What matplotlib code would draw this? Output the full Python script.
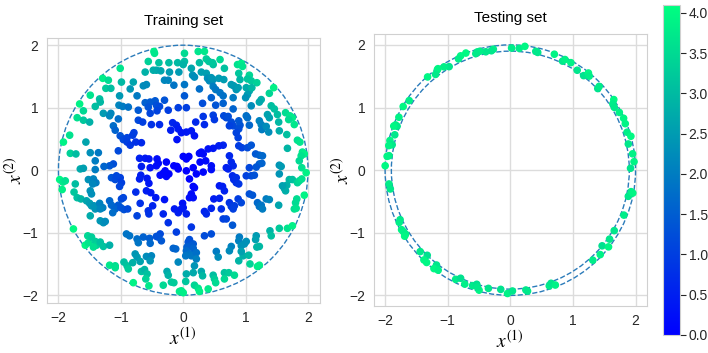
import matplotlib.pyplot as plt
import numpy as np
from matplotlib.patches import Circle

# training set, one quadrant at a time
train_x_q1 = [-0.47, -0.46, -0.56, -0.39, -0.23, -0.09, -1.01, -0.61, -0.48, -0.43,
              -0.36, -0.22, -0.07, -1.29, -1.20, -0.99, -0.80, -0.30, -0.24, -1.24,
              -1.16, -0.85, -0.64, -0.59, -0.15, -1.49, -1.34, -1.02, -0.74, -1.33,
              -1.66, -1.41, -1.03, -0.97, -0.88, -0.61, -0.53, -0.45, -0.43, -0.30,
              -0.56, -0.38, -0.24, -1.60, -1.28, -1.16, -1.18, -0.72, -0.53, -0.42,
              -0.08, -1.70, -1.60, -1.50, -1.04, -0.72, -0.65, -0.51, -0.38, -0.17,
              -0.11, -0.08, -1.12, -1.09, -1.01, -0.96, -0.90, -0.81, -0.79, -0.90,
              -0.85, -0.76, -0.67, -0.20, -0.10, -1.82, -1.92, -1.56, -1.49, -1.81,
              -1.72, -1.36, -1.04, -1.41, -1.12, -1.18, -1.27, -0.70, -0.61, -0.55,
              -0.42, -0.40, -0.27, -0.15, -0.10, -0.67, -0.53, -0.43]
train_y_q1 = [1.90, 1.87, 1.74, 1.72, 1.72, 1.72, 1.63, 1.57, 1.60, 1.60,
              1.59, 1.57, 1.57, 1.47, 1.44, 1.41, 1.41, 1.44, 1.44, 1.31,
              1.31, 1.30, 1.35, 1.37, 1.36, 1.20, 1.14, 1.19, 1.19, 1.09,
              1.06, 1.02, 1.04, 1.02, 1.01, 1.08, 1.09, 1.11, 1.04, 1.12,
              1.01, 1.02, 0.96, 0.95, 0.91, 0.91, 0.87, 0.96, 0.91, 0.95,
              1.00, 0.84, 0.80, 0.77, 0.82, 0.80, 0.77, 0.73, 0.73, 0.76,
              0.72, 0.66, 0.71, 0.64, 0.55, 0.49, 0.52, 0.56, 0.60, 0.45,
              0.40, 0.45, 0.44, 0.64, 0.49, 0.56, 0.45, 0.45, 0.28, 0.27,
              0.26, 0.28, 0.31, 0.15, 0.10, 0.07, 0.06, 0.19, 0.19, 0.18,
              0.18, 0.11, 0.13, 0.07, 0.06, 0.06, 0.04, 0.07]

train_x_q2 = [0.02, 0.24, 0.34, 0.02, 0.00, 0.26, 0.37, 0.41, 0.48, 0.47,
              0.59, 0.66, 0.87, 0.93, 0.95, 0.13, 0.15, 0.18, 0.29, 0.37,
              0.39, 0.42, 0.48, 0.45, 0.57, 0.65, 0.89, 0.91, 1.06, 1.03,
              1.09, 1.18, 0.02, 0.26, 0.48, 0.52, 0.77, 0.81, 0.85, 0.88,
              1.01, 1.06, 1.10, 0.59, 0.64, 1.03, 1.00, 0.02, 0.45, 0.80,
              1.25, 1.22, 1.38, 1.45, 0.31, 0.52, 0.64, 1.09, 0.80, 0.05,
              1.41, 1.46, 1.35, 1.38, 1.51, 1.53, 1.64, 1.71, 1.75, 1.69,
              1.78, 0.48, 0.50, 0.65, 0.69, 0.72, 0.32, 0.34, 0.20, 0.13,
              0.05, -0.03, 0.18, 0.77, 0.80, 0.74, 0.89, 0.91, 0.89, 1.01,
              1.03, 1.06, 1.22, 1.25, 1.26, 1.33, 1.37, 1.54, 1.66, 1.83,
              1.87, 1.91, 1.94, 1.89, 1.67, 0.85, 0.88, 0.64, 0.57, 0.48,
              0.40, 0.29, 0.26, 0.32, 0.09, 0.05, 0.00, 0.74, 0.77, 0.80,
              0.89, 0.94, 1.03, 1.09, 1.16, 1.22, 1.27, 1.22, 1.26, 1.54,
              1.57, 0.69, 0.72, 0.45, 0.27, 0.36, 0.16, 1.86, 1.90]
train_y_q2 = [1.87, 1.90, 1.90, 1.74, 1.69, 1.72, 1.78, 1.74, 1.69, 1.72,
              1.77, 1.63, 1.69, 1.71, 1.66, 1.63, 1.52, 1.49, 1.57, 1.55,
              1.47, 1.43, 1.45, 1.48, 1.47, 1.45, 1.55, 1.45, 1.52, 1.46,
              1.43, 1.40, 1.37, 1.30, 1.34, 1.29, 1.37, 1.35, 1.29, 1.32,
              1.32, 1.27, 1.32, 1.24, 1.19, 1.21, 1.16, 1.19, 1.16, 1.16,
              1.13, 1.09, 1.23, 1.32, 1.07, 1.04, 1.07, 1.03, 0.98, 1.00,
              1.03, 0.98, 0.89, 0.84, 0.89, 0.77, 0.92, 0.87, 0.84, 0.81,
              0.73, 0.88, 0.81, 0.87, 0.84, 0.86, 0.86, 0.73, 0.77, 0.63,
              0.61, 0.60, 0.55, 0.77, 0.71, 0.71, 0.79, 0.72, 0.66, 0.87,
              0.84, 0.72, 0.79, 0.73, 0.65, 0.70, 0.61, 0.63, 0.57, 0.48,
              0.45, 0.29, 0.26, 0.23, 0.35, 0.60, 0.52, 0.40, 0.39, 0.35,
              0.34, 0.29, 0.27, 0.26, 0.22, 0.18, 0.22, 0.23, 0.13, 0.07,
              0.39, 0.36, 0.36, 0.40, 0.26, 0.24, 0.23, 0.10, 0.11, 0.08,
              0.06, 0.04, 0.02, 0.07, 0.13, 0.15, 0.04, 0.15, 0.04]

train_x_q3 = [-1.65, -1.60, -1.41, -1.98, -1.93, -1.89, -1.94, -1.73, -1.75, -1.70,
              -1.64, -1.52, -1.49, -1.47, -1.44, -1.40, -1.45, -1.55, -1.50, -1.47,
              -1.41, -1.43, -1.34, -1.29, -1.33, -1.49, -1.33, -1.28, -1.25, -1.18,
              -1.15, -1.15, -1.09, -1.01, -0.99, -1.02, -1.07, -0.99, -0.96, -1.04,
              -1.09, -1.00, -0.95, -0.89, -1.13, -0.76, -0.68, -0.70, -0.58, -0.55,
              -0.59, -0.52, -0.44, -0.69, -0.56, -0.55, -0.49, -0.74, -0.37, -0.32,
              -0.27, -0.23, -0.29, -0.08, -0.30, -0.14, -0.08, -0.01, -0.24, -0.32,
              -1.76, -1.57, -1.52, -1.53, -1.47, -1.41, -1.39, -1.44, -1.33, -1.28,
              -1.18, -1.18, -1.09, -1.09, -0.95, -0.90, -0.81, -0.88, -0.91, -0.86,
              -0.74, -0.72, -0.64, -0.54, -0.53, -0.43, -0.77, -0.74, -0.69, -0.59,
              -0.51, -0.53, -0.67, -0.62, -0.58, -0.60, -0.55, -0.80, -0.37, -0.40,
              -0.35, -0.16, -0.12, -0.26, -0.24, -0.19, -0.15, -0.32, -0.08, -0.03,
              -0.11]
train_y_q3 = [0.02, 0.03, 0.01, -0.15, -0.19, -0.17, -0.31, -0.22, -0.35, -0.44,
              -0.46, -0.15, -0.33, -0.38, -0.14, -0.20, -0.22, -0.49, -0.53, -0.57,
              -0.62, -0.57, -0.53, -0.60, -0.62, -0.73, -0.81, -0.84, -0.82, -0.49,
              -0.56, -0.12, -0.15, -0.12, -0.20, -0.26, -0.09, -0.46, -0.44, -0.56,
              -0.62, -0.60, -0.63, -0.62, -0.68, -0.35, -0.08, -0.14, -0.13, -0.21,
              -0.33, -0.36, -0.44, -0.53, -0.65, -0.70, -0.57, -0.73, -0.08, -0.05,
              -0.10, -0.06, -0.01, 0.02, -0.47, -0.62, -0.68, -0.53, -0.84, -0.70,
              -0.94, -1.20, -1.16, -1.05, -1.07, -1.14, -1.20, -1.23, -1.15, -1.22,
              -1.20, -1.52, -1.53, -1.56, -1.47, -1.53, -1.48, -1.58, -1.02, -1.05,
              -1.10, -1.16, -1.07, -1.09, -1.17, -1.06, -1.34, -1.39, -1.46, -1.38,
              -1.37, -1.45, -1.62, -1.59, -1.66, -1.74, -1.85, -1.80, -1.02, -1.07,
              -1.13, -1.25, -1.26, -1.62, -1.68, -1.79, -1.80, -1.84, -1.47, -1.93,
              -0.99]

train_x_q4 = [0.05, 0.10, 0.21, 0.32, 0.45, 0.16, 0.18, 0.13, 0.10, 0.16,
              0.00, -0.03, 0.05, 0.13, 0.34, 0.37, 0.45, 0.49, 0.58, 0.61,
              0.58, 0.63, 0.66, 0.79, 0.81, 0.85, 0.85, 0.89, 0.74, 0.77,
              0.82, 0.80, 0.88, 0.93, 0.64, 0.69, 0.79, 1.01, 1.09, 1.14,
              1.06, 1.11, 1.19, 1.22, 1.25, 1.27, 1.33, 1.38, 1.17, 1.54,
              1.62, 1.64, 1.66, 1.70, 1.75, 1.83, 1.86, 1.90, 1.97, 1.82,
              1.80, 1.94, 1.53, 1.78, 1.81, 1.39, 1.41, 1.54, 1.67, 1.75,
              1.17, 1.16, 1.22, 1.18, 0.90, 0.89, 0.93, 0.98, 1.01, 0.77,
              0.74, 0.96, 0.93, 0.89, 1.05, 1.07, 1.19, 1.22, 0.10, 0.08,
              0.16, 0.13, 0.06, 0.16, 0.05, 0.10, 0.13, 0.04, 0.21, 0.21,
              0.34, 0.45, 0.53, 0.56, 0.18, 0.29, 0.31, 0.16, 0.05, 0.48,
              0.50, 0.52, 0.66, 0.73, 0.82, 0.66, 0.04, 0.18, 0.24, 0.26,
              0.40, -0.06, 0.00, 1.59, 1.06]
train_y_q4 = [-0.01, -0.14, -0.06, -0.03, 0.01, -0.26, -0.28, -0.38, -0.44, -0.44,
              -0.60, -0.62, -0.70, -0.91, -0.66, -0.70, -0.61, -0.46, -0.45, -0.62,
              -0.25, -0.26, -0.33, -0.09, -0.15, -0.12, -0.20, -0.22, -0.52, -0.58,
              -0.57, -0.62, -0.46, -0.52, -0.78, -0.78, -0.88, -0.09, -0.09, -0.08,
              -0.38, -0.40, -0.52, -0.58, -0.56, -0.62, -0.46, -0.47, 0.05, -0.06,
              -0.29, -0.33, -0.24, -0.15, -0.15, -0.20, -0.17, -0.14, -0.04, -0.46,
              -0.52, -0.40, -0.56, -0.62, -0.61, -0.97, -1.05, -0.93, -0.93, -0.89,
              -1.05, -1.11, -1.22, -1.23, -1.07, -1.13, -1.21, -1.18, -1.14, -1.22,
              -1.29, -1.37, -1.30, -1.45, -1.36, -1.50, -1.54, -1.52, -1.11, -1.15,
              -1.18, -1.21, -1.23, -1.25, -1.29, -1.34, -1.37, -1.37, -1.32, -1.42,
              -1.05, -1.02, -1.30, -1.39, -1.53, -1.62, -1.69, -1.64, -1.66, -1.68,
              -1.74, -1.80, -1.64, -1.64, -1.68, -1.74, -1.78, -1.84, -1.89, -1.94,
              -1.90, -1.94, -1.96, -0.25, 0.04]

# testing set: points in the thin ring, angle in degrees and radius
theta_test = [98.0, 99.0, 101.7, 104.4, 105.6, 106.5, 110.8, 113.5, 115.0, 120.6,
              122.7, 125.5, 126.1, 128.0, 131.6, 145.5, 149.3, 154.6, 158.5, 158.8,
              159.3, 163.0, 166.2, 167.6, 167.9, 168.6, 173.2, 173.6, 178.0,
              186.5, 188.9, 204.2, 205.2, 208.7, 209.9, 211.4, 212.0, 222.1, 225.7,
              226.1, 227.8, 232.1, 232.2, 234.2, 243.4, 245.3, 248.2, 251.9, 253.6,
              255.4, 254.2, 259.5, 265.4, 268.7,
              271.0, 278.1, 277.4, 288.6, 289.8, 291.4, 312.5, 316.8, 320.5, 322.0,
              325.2, 329.8, 338.4, 347.5, 349.9, 349.4, 0.9,
              89.4, 85.8, 83.3, 77.9, 76.9, 69.2, 64.4, 63.7, 60.6, 56.2,
              52.2, 51.2, 50.0, 43.0, 43.3, 34.3, 32.9, 31.1, 27.9, 24.6,
              22.0, 18.0, 15.7, 12.5, 7.6, 3.9]
r_test = [1.95, 1.93, 1.93, 1.96, 1.96, 1.94, 2.00, 1.99, 1.96, 1.92,
          1.96, 1.99, 1.98, 1.94, 1.99, 1.96, 1.99, 1.97, 1.97, 1.94,
          1.99, 1.93, 1.98, 1.96, 1.93, 1.98, 1.95, 1.98, 2.00,
          1.95, 1.94, 1.93, 1.96, 1.98, 1.97, 1.96, 1.99, 1.94, 1.90,
          1.99, 1.99, 1.92, 1.99, 1.97, 1.95, 1.90, 1.96, 1.94, 1.90,
          1.98, 1.94, 1.92, 1.91, 1.97,
          1.93, 1.95, 1.93, 1.95, 1.92, 1.97, 1.95, 1.97, 1.90, 1.99,
          1.93, 1.92, 1.95, 1.93, 1.96, 1.99, 1.92,
          1.95, 1.95, 1.99, 1.94, 1.93, 1.98, 1.93, 1.97, 1.97, 1.92,
          1.91, 1.99, 1.96, 1.91, 1.95, 2.00, 1.95, 1.94, 1.97, 1.99,
          1.98, 1.96, 2.00, 1.93, 1.97, 1.98]

x_train = np.array(train_x_q1 + train_x_q2 + train_x_q3 + train_x_q4)
y_train = np.array(train_y_q1 + train_y_q2 + train_y_q3 + train_y_q4)
c_train = x_train**2 + y_train**2

t = np.deg2rad(theta_test)
x_test = np.array(r_test) * np.cos(t)
y_test = np.array(r_test) * np.sin(t)
c_test = x_test**2 + y_test**2

plt.rcParams['font.family'] = ['Liberation Sans', 'DejaVu Sans']
plt.rcParams['mathtext.fontset'] = 'stix'

fig = plt.figure(figsize=(7.08, 3.53), dpi=100)
ax1 = fig.add_axes([0.0658, 0.1425, 0.386, 0.7507])
ax2 = fig.add_axes([0.528, 0.133, 0.3856, 0.770])
cax = fig.add_axes([0.937, 0.051, 0.024, 0.935])

sc = ax1.scatter(x_train, y_train, c=c_train, cmap='winter', vmin=0, vmax=4.1,
                 s=20, zorder=3)
ax2.scatter(x_test, y_test, c=c_test, cmap='winter', vmin=0, vmax=4.1,
            s=20, zorder=3)

ax1.add_patch(Circle((0, 0), 2, fill=False, ls='--', lw=1, color='#2b7bba', zorder=2))
ax2.add_patch(Circle((0, 0), 2, fill=False, ls='--', lw=1, color='#2b7bba', zorder=2))
ax2.add_patch(Circle((0, 0), 1.9, fill=False, ls='--', lw=1, color='#2b7bba', zorder=2))

ax1.set_xlim(-2.19, 2.19)
ax1.set_ylim(-2.12, 2.12)
ax2.set_xlim(-2.18, 2.18)
ax2.set_ylim(-2.17, 2.17)

for ax, title in [(ax1, 'Training set'), (ax2, 'Testing set')]:
    ax.set_xticks([-2, -1, 0, 1, 2])
    ax.set_yticks([-2, -1, 0, 1, 2])
    ax.set_axisbelow(True)
    ax.grid(True, color='#dcdcdc', lw=1)
    for sp in ax.spines.values():
        sp.set_color('#d0d0d0')
    ax.tick_params(length=0, labelsize=10, colors='#262626', pad=6)
    ax.set_xlabel(r'$x^{(1)}$', fontsize=14, labelpad=1)
    ax.set_ylabel(r'$x^{(2)}$', fontsize=14, labelpad=-2)
    ax.set_title(title, fontsize=11, pad=9)

cb = fig.colorbar(sc, cax=cax)
cb.set_ticks(np.arange(0, 4.01, 0.5))
cb.outline.set_edgecolor('#d0d0d0')
cax.tick_params(length=4, width=0.8, labelsize=10, colors='#262626', pad=2)

plt.savefig('out.png', dpi=100)
